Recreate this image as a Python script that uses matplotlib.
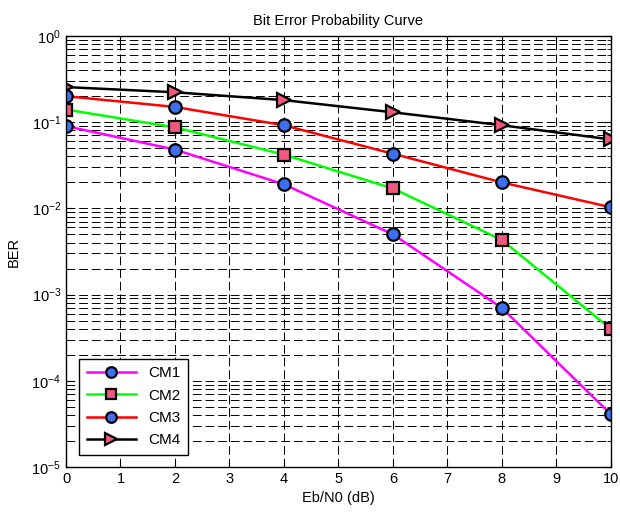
import matplotlib
matplotlib.use("Agg")
import matplotlib.pyplot as plt
from matplotlib.ticker import LogLocator, NullFormatter, FixedLocator

plt.rcParams['font.family'] = ['Liberation Sans', 'DejaVu Sans']

# Eb/N0 values (dB) and BER for each channel model
ebn0 = [0, 2, 4, 6, 8, 10]
cm1 = [0.09, 0.048, 0.019, 0.005, 0.0007, 4.1e-5]
cm2 = [0.14, 0.087, 0.042, 0.017, 0.0043, 4.0e-4]
cm3 = [0.20, 0.15, 0.092, 0.043, 0.020, 0.0103]
cm4 = [0.255, 0.222, 0.18, 0.13, 0.092, 0.063]
labels = ["CM1", "CM2", "CM3", "CM4"]
xticks = list(range(0, 11))

blue = "#3d6ff0"
pink = "#f0587e"

fig = plt.figure(figsize=(6.2, 5.13), dpi=100)
ax = fig.add_axes([0.1065, 0.0897, 0.8785, 0.8403])

ax.semilogy(ebn0, cm1, color="#ff00ff", lw=1.8, marker="o", ms=9,
            mfc=blue, mec="black", mew=1.6, label=labels[0])
ax.semilogy(ebn0, cm2, color="#00ff00", lw=1.8, marker="s", ms=9,
            mfc=pink, mec="black", mew=1.6, label=labels[1])
ax.semilogy(ebn0, cm3, color="#ff0000", lw=1.8, marker="o", ms=9,
            mfc=blue, mec="black", mew=1.6, label=labels[2])
ax.semilogy(ebn0, cm4, color="black", lw=1.8, marker=">", ms=10,
            mfc=pink, mec="black", mew=1.6, label=labels[3])

ax.set_xlim(0, 10)
ax.set_ylim(1e-5, 1)
ax.xaxis.set_major_locator(FixedLocator(xticks))
ax.yaxis.set_major_locator(LogLocator(base=10, numticks=10))
ax.yaxis.set_minor_locator(LogLocator(base=10, subs=range(2, 10), numticks=20))
ax.yaxis.set_minor_formatter(NullFormatter())

ax.grid(True, which="major", axis="both", color="black", ls=(0, (9, 4)), lw=0.7)
ax.grid(True, which="minor", axis="y", color="black", ls=(0, (9, 4)), lw=0.7)
ax.set_axisbelow(True)

ax.tick_params(which="both", direction="in", top=True, right=True, labelsize=10.5)
ax.tick_params(which="major", length=5)
ax.tick_params(which="minor", length=3)
for s in ax.spines.values():
    s.set_linewidth(1.0)

ax.set_title("Bit Error Probability Curve", fontsize=10.5, pad=8)
ax.set_xlabel("Eb/N0 (dB)", fontsize=10.5)
ax.set_ylabel("BER", fontsize=10.5, labelpad=8)

leg = ax.legend(loc="lower left", fontsize=11, fancybox=False, framealpha=1,
                edgecolor="black", handlelength=3.2, borderpad=0.5,
                labelspacing=0.55, markerscale=0.85,
                bbox_to_anchor=(0.01, 0.01))
leg.get_frame().set_linewidth(1.0)

fig.savefig("out.png", dpi=100)
